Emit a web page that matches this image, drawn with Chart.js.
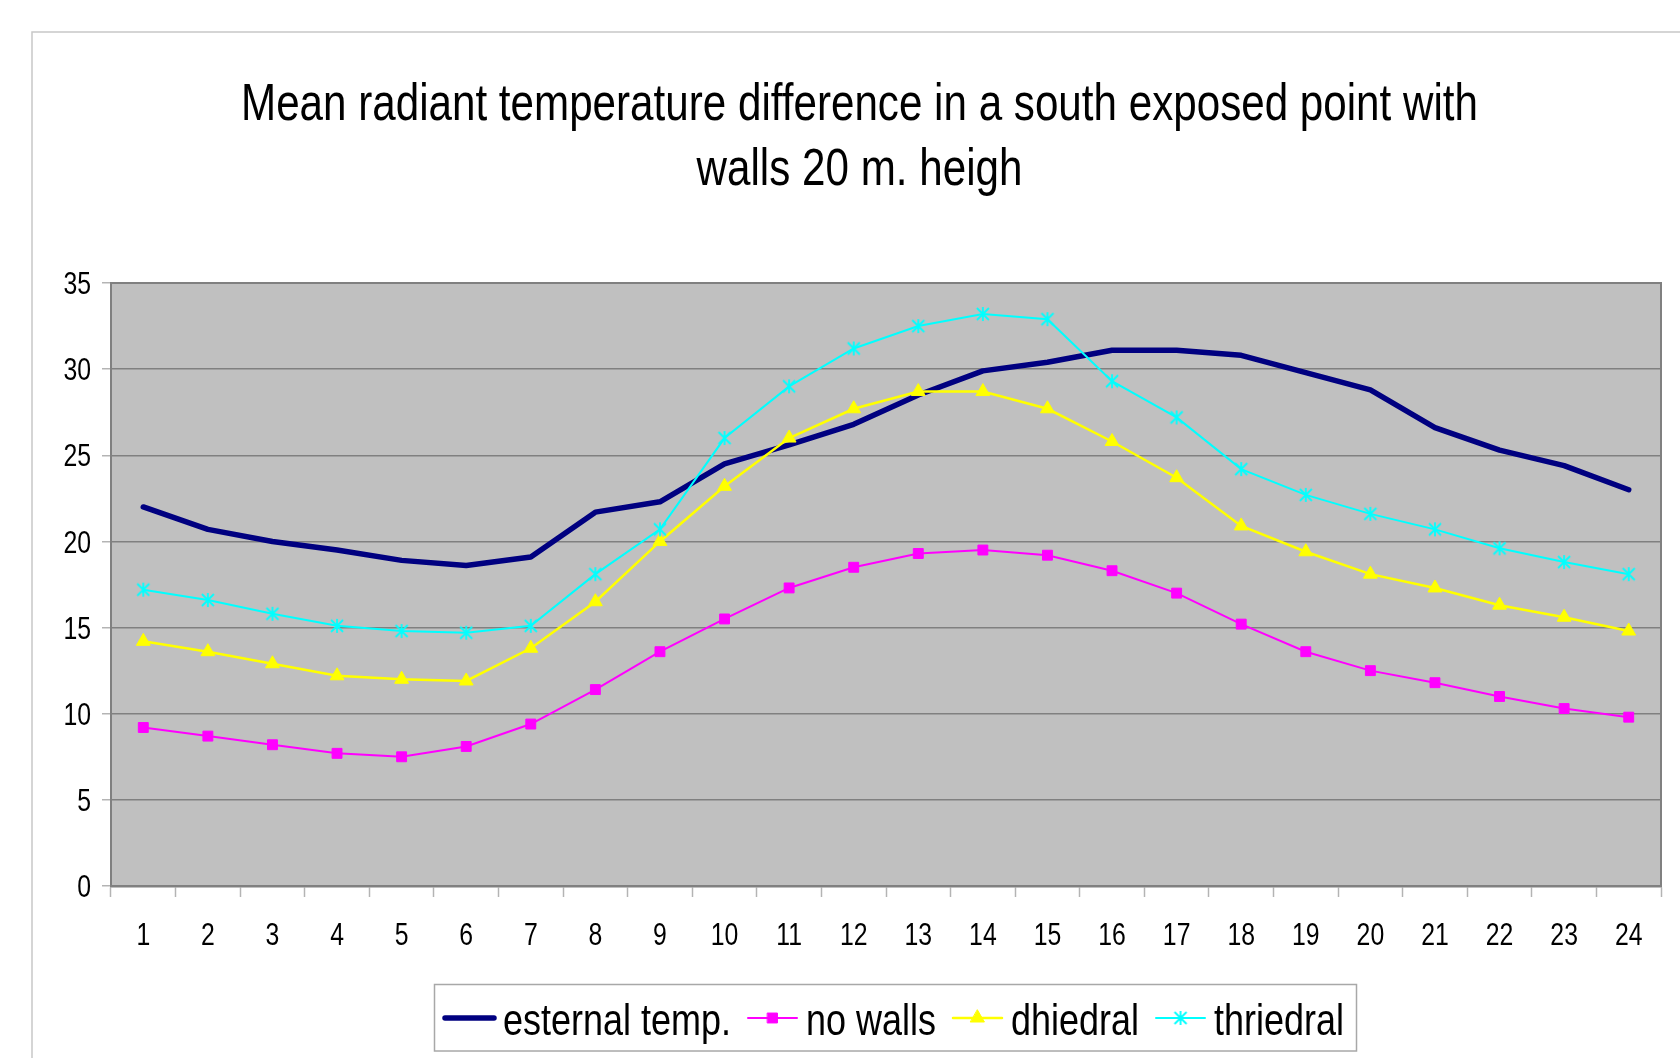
<!DOCTYPE html>
<html>
<head>
<meta charset="utf-8">
<script src="https://cdn.jsdelivr.net/npm/chart.js@4.4.1/dist/chart.umd.min.js"></script>
<style>
  html, body { margin: 0; padding: 0; background: #fff; }
  #grafico { display: block; }
</style>
</head>
<body>
<canvas id="grafico" width="1680" height="1058"></canvas>
<script>
// hours of the day
const horas = ['1', '2', '3', '4', '5', '6', '7', '8', '9', '10', '11', '12',
               '13', '14', '15', '16', '17', '18', '19', '20', '21', '22', '23', '24'];

const esternalTemp = [22.0, 20.7, 20.0, 19.5, 18.9, 18.6, 19.1, 21.7, 22.3, 24.5, 25.6, 26.8,
                      28.5, 29.9, 30.4, 31.1, 31.1, 30.8, 29.8, 28.8, 26.6, 25.3, 24.4, 23.0];
const noWalls = [9.2, 8.7, 8.2, 7.7, 7.5, 8.1, 9.4, 11.4, 13.6, 15.5, 17.3, 18.5,
                 19.3, 19.5, 19.2, 18.3, 17.0, 15.2, 13.6, 12.5, 11.8, 11.0, 10.3, 9.8];
const dhiedral = [14.2, 13.6, 12.9, 12.2, 12.0, 11.9, 13.8, 16.5, 20.0, 23.2, 26.0, 27.7,
                  28.7, 28.7, 27.7, 25.8, 23.7, 20.9, 19.4, 18.1, 17.3, 16.3, 15.6, 14.8];
const thriedral = [17.2, 16.6, 15.8, 15.1, 14.8, 14.7, 15.1, 18.1, 20.7, 26.0, 29.0, 31.2,
                   32.5, 33.2, 32.9, 29.3, 27.2, 24.2, 22.7, 21.6, 20.7, 19.6, 18.8, 18.1];

const titulo = ['Mean radiant temperature difference in a south exposed point with',
                'walls 20 m. heigh'];

const fonteTexto = '"Liberation Sans", Arial, sans-serif';

// asterisk-like marker (X with a vertical stroke)
function criarEstrela(cor) {
    const c = document.createElement('canvas');
    c.width = 16;
    c.height = 16;
    const g = c.getContext('2d');
    g.strokeStyle = cor;
    g.lineWidth = 1.8;
    g.beginPath();
    g.moveTo(2, 2); g.lineTo(14, 14);
    g.moveTo(14, 2); g.lineTo(2, 14);
    g.moveTo(8, 1); g.lineTo(8, 15);
    g.stroke();
    return c;
}

// text squeezed horizontally, like the narrow face of the original
function textoEstreito(ctx, texto, x, y, fator, align) {
    ctx.save();
    ctx.translate(x, y);
    ctx.scale(fator, 1);
    ctx.textAlign = align;
    ctx.fillText(texto, 0, 0);
    ctx.restore();
}

const fundo = {
    id: 'fundo',
    beforeDraw(chart) {
        const { ctx, chartArea: a } = chart;
        ctx.save();
        ctx.fillStyle = '#ffffff';
        ctx.fillRect(0, 0, chart.width, chart.height);

        // outer frame
        ctx.strokeStyle = '#c8c8c8';
        ctx.lineWidth = 1.5;
        ctx.beginPath();
        ctx.moveTo(32, chart.height);
        ctx.lineTo(32, 32);
        ctx.lineTo(chart.width, 32);
        ctx.stroke();

        // plot area
        ctx.fillStyle = '#c0c0c0';
        ctx.fillRect(a.left, a.top, a.right - a.left, a.bottom - a.top);
        ctx.strokeStyle = '#808080';
        ctx.lineWidth = 2;
        ctx.strokeRect(a.left, a.top, a.right - a.left, a.bottom - a.top);
        ctx.restore();
    }
};

// axis labels, placed with the scales' own pixel positions
const rotulosEixos = {
    id: 'rotulosEixos',
    afterDraw(chart) {
        const { ctx, scales: { x, y } } = chart;
        ctx.save();
        ctx.font = '31px ' + fonteTexto;
        ctx.fillStyle = '#000';
        ctx.textBaseline = 'alphabetic';
        y.ticks.forEach((t, i) => {
            textoEstreito(ctx, String(t.value), 91, y.getPixelForTick(i) + 11.2, 0.8, 'right');
        });
        x.ticks.forEach((t, i) => {
            textoEstreito(ctx, chart.data.labels[t.value], x.getPixelForTick(i), 945, 0.8, 'center');
        });
        ctx.restore();
    }
};

const tituloELegenda = {
    id: 'tituloELegenda',
    afterDraw(chart) {
        const ctx = chart.ctx;
        ctx.save();
        ctx.fillStyle = '#000';
        ctx.textBaseline = 'alphabetic';

        // title
        ctx.font = '52px ' + fonteTexto;
        const fatorTitulo = 1237 / ctx.measureText(titulo[0]).width;
        textoEstreito(ctx, titulo[0], 859.5, 120, fatorTitulo, 'center');
        textoEstreito(ctx, titulo[1], 859.5, 185, fatorTitulo, 'center');

        // legend
        ctx.font = '44px ' + fonteTexto;
        const datasets = chart.data.datasets;
        const fatorLeg = 228 / ctx.measureText(datasets[0].label).width;
        const yLinha = 1018;
        const yTexto = 1035;
        let x = 445;
        datasets.forEach(ds => {
            ctx.strokeStyle = ds.borderColor;
            ctx.lineWidth = ds.borderWidth;
            ctx.lineCap = 'round';
            ctx.beginPath();
            ctx.moveTo(x, yLinha);
            ctx.lineTo(x + 49, yLinha);
            ctx.stroke();
            if (ds.pointRadius > 0) {
                ctx.fillStyle = ds.pointBackgroundColor;
                ctx.strokeStyle = ds.pointBorderColor;
                ctx.lineWidth = 1;
                Chart.helpers.drawPoint(ctx, {
                    pointStyle: ds.pointStyle,
                    radius: ds.pointRadius,
                    borderWidth: 1,
                    rotation: 0
                }, x + 24.5, yLinha);
            }
            x += 58;
            ctx.fillStyle = '#000';
            textoEstreito(ctx, ds.label, x, yTexto, fatorLeg, 'left');
            x += ctx.measureText(ds.label).width * fatorLeg + 17;
        });
        ctx.strokeStyle = '#a8a8a8';
        ctx.lineWidth = 1.5;
        ctx.strokeRect(434.5, 984.5, 922, 66.5);
        ctx.restore();
    }
};

const ctx = document.getElementById('grafico').getContext('2d');

const config = {
    type: 'line',
    data: {
        labels: horas,
        datasets: [
            {
                label: 'esternal temp.',
                data: esternalTemp,
                borderColor: '#000080',
                backgroundColor: '#000080',
                borderWidth: 5.5,
                borderCapStyle: 'round',
                borderJoinStyle: 'round',
                pointRadius: 0,
                pointBackgroundColor: '#000080',
                pointBorderColor: '#000080',
                order: 4
            },
            {
                label: 'no walls',
                data: noWalls,
                borderColor: '#ff00ff',
                backgroundColor: '#ff00ff',
                borderWidth: 2,
                pointStyle: 'rect',
                pointRadius: 7,
                pointBorderWidth: 1,
                pointBackgroundColor: '#ff00ff',
                pointBorderColor: '#ff00ff',
                order: 3
            },
            {
                label: 'dhiedral',
                data: dhiedral,
                borderColor: '#ffff00',
                backgroundColor: '#ffff00',
                borderWidth: 2.5,
                pointStyle: 'triangle',
                pointRadius: 8,
                pointBorderWidth: 1,
                pointBackgroundColor: '#ffff00',
                pointBorderColor: '#ffff00',
                order: 2
            },
            {
                label: 'thriedral',
                data: thriedral,
                borderColor: '#00ffff',
                backgroundColor: '#00ffff',
                borderWidth: 2,
                pointStyle: criarEstrela('#00ffff'),
                pointRadius: 8,
                pointBorderWidth: 0,
                pointBackgroundColor: '#00ffff',
                pointBorderColor: '#00ffff',
                order: 1
            }
        ]
    },
    options: {
        responsive: false,
        animation: false,
        layout: {
            padding: { top: 283, right: 19, left: 0, bottom: 0 }
        },
        scales: {
            x: {
                offset: true,
                grid: {
                    offset: true,
                    drawOnChartArea: false,
                    tickLength: 11,
                    tickColor: '#b4b4b4',
                    tickWidth: 1.5
                },
                border: { color: '#808080', width: 2.5 },
                ticks: { display: false, autoSkip: false, maxRotation: 0 },
                afterFit: scale => { scale.height = 172; }
            },
            y: {
                min: 0,
                max: 35,
                grid: {
                    color: '#808080',
                    lineWidth: 1.5,
                    tickLength: 9,
                    tickColor: '#b4b4b4'
                },
                border: { color: '#808080', width: 2 },
                ticks: { display: false, stepSize: 5 },
                afterFit: scale => { scale.width = 111; }
            }
        },
        plugins: {
            legend: { display: false },
            title: { display: false },
            tooltip: { enabled: false }
        }
    },
    plugins: [fundo, rotulosEixos, tituloELegenda]
};

const myChart = new Chart(ctx, config);
</script>
</body>
</html>
